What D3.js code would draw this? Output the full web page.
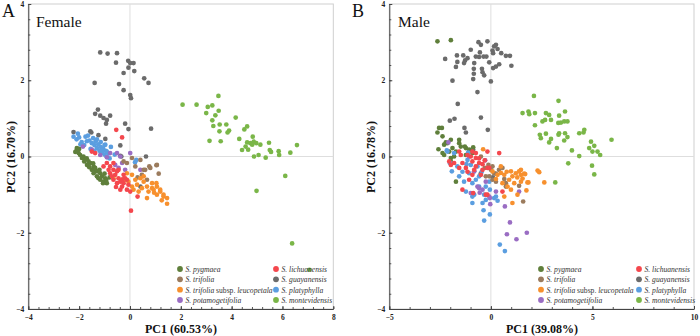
<!DOCTYPE html>
<html><head><meta charset="utf-8">
<script src="https://cdn.jsdelivr.net/npm/d3@7"></script>
<style>body{margin:0;background:#fff}svg{display:block}</style>
</head><body><div id="chart"></div>
<script>
const species = ["S. pygmaea","S. trifolia","S. trifolia subsp. leucopetala","S. potamogetifolia","S. lichuanensis","S. guayanensis","S. platyphylla","S. montevidensis"];
const colors = ["#5f7f3b","#9b7b5d","#f7902e","#9a6dc3","#f4474d","#6b6b6b","#5b9ee0","#7ab648"];
const xTicksA = [-4,-2,0,2,4,6,8];
const xTicksB = [-5,0,5,10];
const yTicks = [-4,-2,0,2,4];

// Female (A)
const fPygmaea = [[-2.09,0.18],[-2.02,0.09],[-1.96,0.04],[-1.83,0],[-1.76,-0.07],[-1.63,-0.13],[-1.56,-0.17],[-1.43,-0.26],[-1.37,-0.35],[-1.30,-0.39],[-1.17,-0.44],[-1.10,-0.52],[-0.97,-0.57],[-0.91,-0.70],[-1.04,-0.66],[-1.24,-0.57],[-1.43,-0.44],[-1.50,-0.35],[-1.69,-0.22],[-1.80,-0.13],[-1.89,-0.04],[-1.17,-0.61],[-1.30,-0.52],[-1.06,-0.70],[-0.93,-0.61],[-1.37,-0.30],[-1.60,-0.28],[-1.00,-0.45],[-0.80,-0.55],[-1.20,-0.35],[-2.15,0.12],[-1.70,-0.05],[-1.45,-0.18],[-2.09,0.22],[-2.0,0.2]];
const fTrifolia = [[0.08,-0.04],[0.41,-0.09],[0.80,-0.30],[1.06,-0.22],[1.13,-0.45],[0.60,-0.35],[0.67,-0.61],[-0.25,-0.13],[-0.12,-0.17],[0.21,-0.26],[0.47,-0.48],[1.04,-0.23],[0.76,-0.26],[0.54,-0.35],[0.30,-0.55]];
const fLeucopetala = [[1.04,-0.70],[0.87,-0.83],[1.19,-0.87],[1.06,-1.0],[1.32,-1.05],[1.46,-1.24],[-0.65,-0.57],[-0.12,-0.44],[0.08,-0.48],[0.21,-0.61],[0.41,-0.57],[0.54,-0.66],[0.28,-0.74],[0.08,-0.79],[0.47,-0.83],[0.67,-0.79],[0.73,-0.92],[0.93,-0.87],[1.06,-0.79],[1.19,-0.92],[1.32,-1.00],[1.46,-1.09],[0.34,-0.92],[0.67,-1.09],[-0.19,-0.61],[-0.06,-0.66],[0.54,-0.52],[0.87,-0.70],[0.14,-0.87],[1.25,-1.15],[0.95,-0.95]];
const fPotamogetifolia = [[-1.85,0.26],[-1.50,0.18],[-0.78,0.09],[-0.91,-0.02],[-0.58,-0.22],[-0.31,-0.17],[-0.19,-0.35],[0.41,-0.35],[-0.38,0.0],[-1.17,0.04],[-0.51,0.09],[0.01,0.09],[-0.45,-0.30]];
const fLichuanensis = [[-0.54,0.70],[-0.31,0.50],[0.04,-1.42],[0.30,-1.05],[-0.91,-0.17],[-0.78,-0.26],[-0.65,-0.35],[-0.78,-0.44],[-0.58,-0.48],[-0.45,-0.57],[-0.38,-0.66],[-0.25,-0.70],[-0.12,-0.61],[-0.06,-0.74],[-0.51,-0.70],[-0.31,-0.79],[-0.65,-0.61],[-0.84,-0.35],[-1.04,-0.26],[-0.65,-0.17],[-0.45,-0.35],[-0.25,-0.48],[-0.38,-0.87],[-1.50,0.13],[-1.37,0.09],[-0.12,-0.87],[0.01,-0.92],[-0.51,-0.39],[-0.19,-0.57],[-0.71,-0.52],[-0.55,-0.80],[-0.30,-0.60]];
const fGuayanensis = [[-1.17,2.73],[-0.88,2.70],[-0.51,2.71],[-0.55,2.46],[-0.07,2.51],[0.01,2.45],[0.14,2.45],[-0.06,2.33],[0.17,2.24],[-0.25,2.19],[0.56,2.05],[0.73,1.93],[-1.39,1.93],[-0.43,1.90],[-0.25,1.74],[0.01,1.61],[0.04,1.53],[-1.26,1.23],[-1.37,1.12],[-1.17,1.07],[-1.04,1.01],[-0.91,0.96],[-0.78,1.07],[-0.94,0.86],[-0.19,0.86],[-0.06,0.72],[0.83,0.73],[-2.22,0.64],[-1.56,0.66],[-1.24,0.56],[-0.97,0.46],[-1.52,0.63],[-0.38,0.29],[-0.38,0.02],[0.63,0.0],[-0.34,0.0],[0.41,-0.79]];
const fPlatyphylla = [[-2.22,0.52],[-2.10,0.45],[-2.00,0.50],[-1.90,0.38],[-1.75,0.52],[-1.65,0.55],[-1.60,0.42],[-1.50,0.35],[-1.45,0.48],[-1.40,0.30],[-1.35,0.40],[-1.30,0.22],[-1.25,0.32],[-1.20,0.15],[-1.15,0.25],[-1.10,0.10],[-1.05,0.20],[-1.00,0.05],[-0.95,0.15],[-0.90,-0.02],[-0.85,0.08],[-0.80,-0.05],[-1.80,0.30],[-1.55,0.20],[-1.70,0.40],[-1.95,0.32],[-2.05,0.60],[-1.30,0.45],[-1.00,0.30],[-0.75,0.25],[0.25,-0.09],[0.20,-0.15],[-0.60,0.05],[-1.15,0.38],[-1.40,0.15],[-0.97,0.31],[-0.91,0.13],[-1.10,0.18]];
const fMontevidensis = [[3.48,1.59],[2.07,1.36],[2.62,1.36],[3.06,1.30],[3.24,1.34],[3.00,1.14],[3.49,1.20],[3.36,1.08],[3.24,0.95],[3.28,0.80],[3.53,0.84],[3.79,0.84],[3.52,0.66],[3.90,0.68],[3.84,0.63],[4.16,1.02],[4.61,0.79],[4.50,0.71],[3.13,0.41],[3.57,0.40],[4.30,0.46],[4.83,0.52],[4.61,0.37],[4.74,0.35],[4.87,0.39],[4.97,0.35],[5.13,0.31],[4.81,0.31],[5.47,0.36],[4.55,0.26],[4.41,0.17],[4.65,0.18],[4.88,0.00],[5.06,0.04],[5.34,-0.03],[5.50,0.17],[5.55,0.12],[5.85,0.14],[5.87,0.04],[6.31,0.10],[6.57,0.30],[6.11,-0.51],[4.98,-0.90],[6.38,-2.28],[7.06,-2.97]];

// Male (B)
const mPygmaea = [[-2.63,3.02],[-1.97,3.05],[-2.55,0.75],[-2.41,0.75],[-2.63,0.63],[-2.38,0.53],[-2.30,0.31],[-2.14,0.35],[-1.97,0.44],[-1.89,0.22],[-2.58,0.19],[-2.38,0.09],[-2.30,0.04],[-2.05,0.13],[-1.72,0.13],[-1.56,0.35],[-1.48,0.26],[-1.23,0.22],[-1.07,0.18],[-1.72,-0.66],[-1.56,0.44],[-1.81,0.0],[-1.23,0.04],[-0.91,0.09],[-1.97,-0.04],[-2.22,0.37],[-1.28,0.26],[-0.87,0.24],[-1.97,-0.13]];
const mTrifolia = [[0.57,-0.30],[-0.08,-0.52],[0.08,-0.61],[0.25,-0.66],[0.66,-0.59],[0.74,-0.70],[1.39,-0.77],[1.59,-1.18],[-0.12,-0.22],[-0.49,0.0],[0.0,-0.35],[0.16,-0.44],[0.08,-0.26],[0.25,-0.45],[-0.25,-0.52],[0.74,-0.79],[0.40,-0.35],[-0.30,-0.30]];
const mLeucopetala = [[-0.38,0.19],[0.49,-0.26],[0.49,-0.43],[0.66,-0.48],[0.78,-0.40],[0.99,-0.39],[1.06,-0.52],[1.23,-0.44],[1.30,-0.55],[1.39,-0.39],[1.48,-0.48],[1.56,-0.58],[1.64,-0.45],[1.48,-0.66],[1.85,-0.68],[1.75,-0.89],[1.31,-1.0],[1.06,-1.22],[0.99,-0.87],[0.82,-0.79],[0.57,-0.70],[0.66,-1.05],[2.30,-0.37],[2.38,-0.41],[2.63,-0.68],[0.25,-0.59],[0.08,-0.39],[0.33,-0.48],[0.90,-0.61],[1.15,-0.70],[1.48,-0.35],[1.69,-0.46],[1.80,-0.68]];
const mPotamogetifolia = [[-0.03,-1.25],[0.69,-1.31],[0.94,-1.73],[0.79,-2.04],[1.26,-2.17],[1.77,-2.00],[-0.28,-0.10],[-0.58,-0.83],[-0.55,-0.95],[-0.05,-1.09],[1.39,-0.92],[-2.09,0.37],[-1.07,0.0],[-0.82,-0.39],[-0.66,-0.79],[-0.41,-0.87],[-0.99,-0.96],[-0.25,-0.66],[-0.08,-1.05],[0.25,-0.92]];
const mLichuanensis = [[-1.56,0.13],[-1.48,0.04],[-1.81,-0.17],[-1.40,-0.17],[-1.23,-0.30],[-0.91,-0.13],[-0.74,-0.26],[-0.58,-0.17],[-0.41,-0.35],[-0.49,-0.48],[-0.91,-0.48],[-1.07,-0.61],[-1.40,-0.87],[-0.25,-1.00],[0.41,0.09],[-0.08,-0.30],[-0.74,0.09],[-0.99,0.0],[-2.05,-0.13],[-1.15,0.04],[-0.91,0.13],[-0.74,-0.04],[-0.17,0.13],[-0.58,-0.05],[-0.41,-0.20],[-0.82,-0.35],[-0.17,-0.30],[0.57,-0.92],[-0.87,-0.96],[-0.17,-1.0],[-1.97,-0.22],[-1.56,-0.30],[-0.30,-0.10],[-1.15,-0.40]];
const mGuayanensis = [[-0.61,3.00],[-0.49,2.93],[-0.17,3.02],[0.16,2.89],[0.25,2.93],[0.33,2.82],[0.08,2.78],[0.11,2.71],[0.51,2.71],[0.74,2.64],[0.94,2.64],[-0.99,2.80],[-0.54,2.73],[-1.67,2.65],[-1.36,2.65],[-1.15,2.58],[-1.27,2.52],[-1.32,2.45],[-1.65,2.48],[-2.25,2.56],[-0.74,2.62],[-0.58,2.61],[-0.36,2.62],[-0.22,2.62],[-0.82,2.45],[-0.08,2.47],[-0.84,2.30],[-0.44,2.30],[-0.41,2.21],[-0.33,2.13],[-0.84,2.17],[-0.87,2.03],[0.00,1.97],[0.11,2.32],[0.25,2.36],[0.41,2.42],[1.01,2.38],[-1.72,2.35],[-1.89,1.99],[-0.66,1.69],[-1.63,1.38],[-2.02,0.94],[-1.79,0.99],[-0.49,1.02],[-1.30,0.75],[-0.15,0.70],[-0.87,0.18],[-1.23,0.63],[0.10,-0.55],[-0.50,-0.45]];
const mPlatyphylla = [[-0.36,-1.41],[-0.05,-1.52],[-0.33,-1.68],[0.44,-2.31],[0.69,-2.48],[-0.25,-1.14],[0.33,-1.16],[-0.99,-0.22],[-0.82,-0.39],[-0.91,-0.70],[-0.82,-1.0],[-0.41,-1.22],[0.25,-1.05],[-0.25,-0.79],[-0.05,-0.87],[-0.58,-0.52],[-2.14,0.13],[-1.97,-0.17],[-1.92,-0.39],[-1.81,0.09],[-1.65,-0.26],[-1.56,-0.52],[-1.32,-0.66],[-1.07,-0.44],[-0.91,-1.22],[-1.23,-0.92],[-0.91,-1.05],[-0.74,-0.61],[-0.58,-0.79],[-0.33,-1.0],[-0.08,-0.66],[-1.15,-0.09],[-0.66,-0.26],[-2.17,0.16],[-2.02,-0.17],[-1.12,0.10],[0.16,-1.09],[-1.40,-0.40],[-1.20,-0.20],[-0.45,-0.40]];
const mMontevidensis = [[2.12,1.59],[3.33,1.46],[1.56,1.14],[1.85,1.18],[1.89,1.11],[2.17,1.14],[2.71,1.14],[2.87,1.09],[3.36,1.07],[3.65,1.18],[2.54,0.92],[2.67,0.96],[2.96,0.96],[3.32,0.88],[3.45,0.89],[3.61,0.92],[3.77,0.92],[2.17,0.82],[2.41,0.57],[2.71,0.60],[2.46,0.48],[2.96,0.46],[2.87,0.37],[3.33,0.57],[3.36,0.61],[3.65,0.61],[3.77,0.51],[3.61,0.42],[4.35,0.61],[4.56,0.63],[4.60,0.70],[4.93,0.39],[5.09,0.28],[4.84,0.22],[5.00,0.13],[5.25,0.13],[5.38,0.04],[3.25,0.22],[3.99,0.16],[4.35,0.01],[5.94,0.44],[3.81,-0.18],[4.98,-0.24],[5.09,-0.47],[3.17,-0.68]];

const femaleSeries = [fPygmaea,fTrifolia,fLeucopetala,fPotamogetifolia,fLichuanensis,fGuayanensis,fPlatyphylla,fMontevidensis];
const maleSeries = [mPygmaea,mTrifolia,mLeucopetala,mPotamogetifolia,mLichuanensis,mGuayanensis,mPlatyphylla,mMontevidensis];
const drawOrder = [5,0,6,3,1,2,4,7];

const serif = "'Liberation Serif','Times New Roman',serif";
const svg = d3.select("#chart").append("svg").attr("width",700).attr("height",336);

const panels = [
  {letter:"A", title:"Female", series:femaleSeries, xDomain:[-4,8], xRange:[28.3,333.3], xTicks:xTicksA, minorStep:0.4,
   xLabel:"PC1 (60.53%)", yLabel:"PC2 (16.70%)", letterX:2, titleX:36, xLabelX:181, yLabelX:15, legX:[180,276]},
  {letter:"B", title:"Male", series:maleSeries, xDomain:[-5,10], xRange:[389.3,694], xTicks:xTicksB, minorStep:1,
   xLabel:"PC1 (39.08%)", yLabel:"PC2 (16.78%)", letterX:352, titleX:398, xLabelX:542, yLabelX:375, legX:[541,639]}
];

panels.forEach(p => {
  const g = svg.append("g");
  const x = d3.scaleLinear().domain(p.xDomain).range(p.xRange);
  const y = d3.scaleLinear().domain([-4,4]).range([309,4]);
  const [x0,x1] = p.xRange;
  g.append("rect").attr("x",x0).attr("y",4).attr("width",x1-x0).attr("height",305)
    .attr("fill","none").attr("stroke","#cfcfcf").attr("stroke-width",1);
  g.append("line").attr("x1",x(0)).attr("x2",x(0)).attr("y1",4).attr("y2",309).attr("stroke","#dedede").attr("stroke-width",1);
  g.append("line").attr("x1",x0).attr("x2",x1).attr("y1",y(0)).attr("y2",y(0)).attr("stroke","#dedede").attr("stroke-width",1);

  const xMinor = d3.range(p.xDomain[0], p.xDomain[1]+1e-9, p.minorStep);
  const yMinor = d3.range(-4, 4+1e-9, 0.4);
  const xAxMinor = g.append("g").attr("transform",`translate(0,309)`)
    .call(d3.axisBottom(x).tickValues(xMinor).tickSize(-2).tickFormat(""));
  const yAxMinor = g.append("g").attr("transform",`translate(${x0},0)`)
    .call(d3.axisLeft(y).tickValues(yMinor).tickSize(-2).tickFormat(""));
  [xAxMinor,yAxMinor].forEach(a=>{a.select(".domain").remove(); a.selectAll("line").attr("stroke","#555");});

  const xAx = g.append("g").attr("transform",`translate(0,309)`)
    .call(d3.axisBottom(x).tickValues(p.xTicks).tickSize(-3).tickPadding(6).tickSizeOuter(0).tickFormat(d3.format("d")));
  const yAx = g.append("g").attr("transform",`translate(${x0},0)`)
    .call(d3.axisLeft(y).tickValues(yTicks).tickSize(-3).tickPadding(4).tickSizeOuter(0).tickFormat(d3.format("d")));
  [xAx,yAx].forEach(a=>{
    a.select(".domain").attr("stroke","#444").attr("stroke-width",1);
    a.selectAll("line").attr("stroke","#444");
    a.selectAll("text").attr("font-family",serif).attr("font-size",7.5).attr("font-weight","bold").attr("fill","#222");
  });
  yAx.selectAll("text").attr("dy","0.32em");

  drawOrder.forEach(si => {
    g.append("g").selectAll("circle").data(p.series[si]).join("circle")
      .attr("cx",d=>x(d[0])).attr("cy",d=>y(d[1])).attr("r",2.35).attr("fill",colors[si]);
  });

  const rows = [269,279.3,289.7,300];
  species.forEach((s,i)=>{
    const col = i<4?0:1, row = i%4;
    const lx = p.legX[col], ly = rows[row];
    g.append("circle").attr("cx",lx).attr("cy",ly).attr("r",2.9).attr("fill",colors[i]);
    const t = g.append("text").attr("x",lx+5.5).attr("y",ly+2.8).attr("font-family",serif).attr("font-size",7.6).attr("fill","#333");
    if (s.includes("subsp.")) {
      t.append("tspan").attr("font-style","italic").text("S. trifolia ");
      t.append("tspan").text("subsp. ");
      t.append("tspan").attr("font-style","italic").text("leucopetala");
    } else {
      t.attr("font-style","italic").text(s);
    }
  });

  svg.append("text").attr("x",p.letterX).attr("y",17).attr("font-family",serif).attr("font-size",18).attr("fill","#111").text(p.letter);
  svg.append("text").attr("x",p.titleX).attr("y",27).attr("font-family",serif).attr("font-size",15.5).attr("fill","#111").text(p.title);
  svg.append("text").attr("x",p.xLabelX).attr("y",333).attr("text-anchor","middle").attr("font-family",serif)
    .attr("font-size",12).attr("font-weight","bold").attr("fill","#111").text(p.xLabel);
  svg.append("text").attr("transform",`translate(${p.yLabelX},157) rotate(-90)`).attr("text-anchor","middle").attr("font-family",serif)
    .attr("font-size",12).attr("font-weight","bold").attr("fill","#111").text(p.yLabel);
});
</script>
</body></html>
